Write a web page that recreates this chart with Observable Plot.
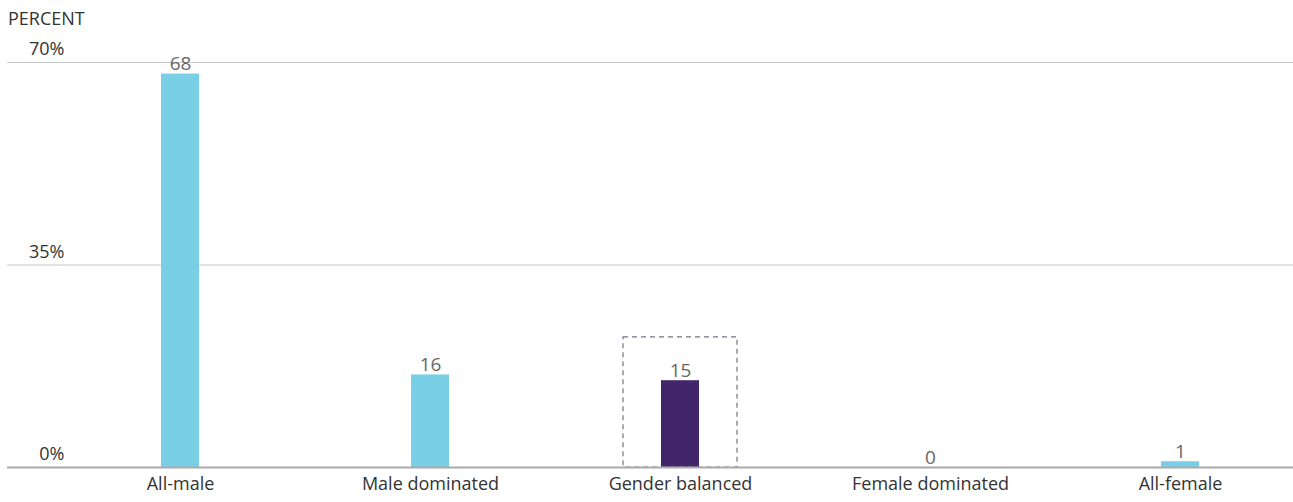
<!DOCTYPE html>
<html>
<head>
<meta charset="utf-8">
<script src="https://cdn.jsdelivr.net/npm/d3@7"></script>
<script src="https://cdn.jsdelivr.net/npm/@observablehq/plot@0.6"></script>
<style>
  body { margin: 0; background: #fff; font-family: "Open Sans", sans-serif; }
  #wrap { position: relative; width: 1293px; height: 502px; }
  #ylabel { position: absolute; left: 8px; top: 6px; font-size: 18px; color: #333; }
</style>
</head>
<body>
<div id="wrap">
  <div id="ylabel">PERCENT</div>
  <div id="chart"></div>
</div>
<script>
const categories = ["All-male", "Male dominated", "Gender balanced", "Female dominated", "All-female"];
const values = [68, 16, 15, 0, 1];
const highlight = ["Gender balanced"];
const yTicks = [0, 35, 70];
const boxTop = 22.5;

const data = categories.map((c, i) => ({category: c, value: values[i], hi: highlight.includes(c)}));

const chart = Plot.plot({
  width: 1293,
  height: 502,
  marginLeft: 7,
  marginRight: 0,
  marginTop: 62,
  marginBottom: 35,
  style: {fontFamily: "'Open Sans', sans-serif", fontSize: "18px", color: "#333", background: "transparent"},
  x: {domain: categories, paddingInner: 0.848, paddingOuter: 0.496, align: 0.621, label: null},
  y: {domain: [0, 70], label: null},
  marks: [
    Plot.ruleY(yTicks.filter(d => d > 0), {stroke: "#c8c8c8", strokeWidth: 1}),
    Plot.axisY({ticks: yTicks, tickSize: 0, tickPadding: 0, textAnchor: "end", dx: 57, dy: -13, tickFormat: d => d + "%", fill: "#333", fontSize: 18}),
    Plot.barY(data, {x: "category", y: "value", fill: d => d.hi ? "#41266b" : "#79d0e6"}),
    Plot.barY(data.filter(d => d.hi), {x: "category", y1: 0, y2: boxTop, fill: "none", stroke: "#7a6b93", strokeWidth: 1.2, strokeDasharray: "5,4", insetLeft: -38, insetRight: -38}),
    Plot.text(data, {x: "category", y: "value", text: d => String(d.value), lineAnchor: "bottom", dy: -4, fill: "#666", fontSize: 19}),
    Plot.ruleY([0], {stroke: "#aaa", strokeWidth: 2}),
    Plot.axisX({tickSize: 0, tickPadding: 10, fill: "#333", fontSize: 18})
  ]
});
document.getElementById("chart").appendChild(chart);
</script>
</body>
</html>
